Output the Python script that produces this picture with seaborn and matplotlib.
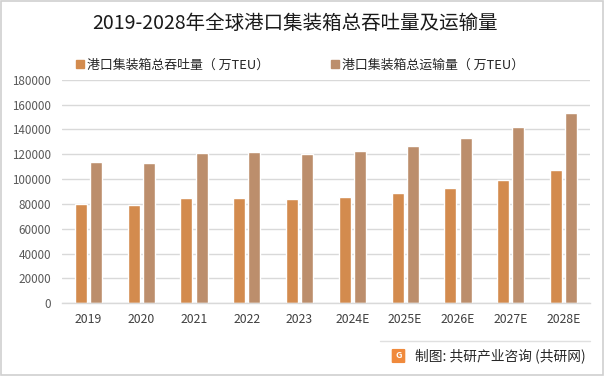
import matplotlib
matplotlib.use("Agg")
import matplotlib.pyplot as plt
import seaborn as sns
import pandas as pd
from matplotlib.patches import Rectangle, FancyBboxPatch
from matplotlib.lines import Line2D

years = ["2019", "2020", "2021", "2022", "2023", "2024E", "2025E", "2026E", "2027E", "2028E"]
throughput = [80000, 79100, 84700, 84700, 83900, 85500, 88800, 92800, 99200, 107300]
transport = [113700, 112900, 121000, 121800, 120200, 122600, 126600, 133000, 141900, 153200]
series_names = ["港口集装箱总吞吐量（ 万TEU）", "港口集装箱总运输量（ 万TEU）"]
title = "2019-2028年全球港口集装箱总吞吐量及运输量"
source = "制图: 共研产业咨询 (共研网)"

df = pd.DataFrame({
    "year": years * 2,
    "value": throughput + transport,
    "series": [series_names[0]] * len(years) + [series_names[1]] * len(years),
})

sns.set_theme(style="white")
plt.rcParams["font.family"] = ["Noto Sans CJK SC", "DejaVu Sans"]

colors = ["#D38B4E", "#BC8E6C"]

fig = plt.figure(figsize=(6.04, 3.76), dpi=100)
ax = fig.add_axes([62 / 604, 1 - 303.3 / 376, (590 - 62) / 604, (303.3 - 79.7) / 376])

sns.barplot(data=df, x="year", y="value", hue="series", palette=colors,
            width=0.57, gap=0.2, ax=ax, legend=False, saturation=1)

ax.set_ylim(0, 180000)
ax.set_yticks(range(0, 180001, 20000))
ax.set_xlim(-0.5, len(years) - 0.5)
ax.yaxis.grid(True, color="#D9D9D9", linewidth=1)
ax.set_axisbelow(True)
for s in ["top", "right", "left"]:
    ax.spines[s].set_visible(False)
ax.spines["bottom"].set_color("#D9D9D9")
ax.spines["bottom"].set_linewidth(1)
ax.set_xlabel("")
ax.set_ylabel("")
ax.tick_params(axis="y", labelsize=8.4, colors="#595959", length=0, pad=8)
ax.tick_params(axis="x", labelsize=8.8, colors="#404040", length=0, pad=7)

fig.text(295.5 / 604, 1 - 23 / 376, title, ha="center", va="center", fontsize=14, color="#1a1a1a")

handles = [Rectangle((0, 0), 1, 1, color=c) for c in colors]
fig.legend(handles, series_names, loc="center left", bbox_to_anchor=(76 / 604, 1 - 65 / 376),
           ncol=2, frameon=False, fontsize=9.3, handlelength=0.6, handleheight=0.6,
           handletextpad=0.25, columnspacing=4.8, borderaxespad=0, borderpad=0)

# footer
fig.add_artist(Line2D([380 / 604, 590 / 604], [1 - 341 / 376, 1 - 341 / 376],
                      color="#E0E0E0", linewidth=1, transform=fig.transFigure))
fig.add_artist(FancyBboxPatch((393 / 604, 1 - 362 / 376), 11 / 604, 12 / 376,
                              boxstyle="round,pad=0.001", color="#F08A3C",
                              transform=fig.transFigure))
fig.text(398.5 / 604, 1 - 356 / 376, "G", ha="center", va="center", fontsize=6.5,
         color="white", fontweight="bold")
fig.text(415 / 604, 1 - 356 / 376, source, ha="left", va="center", fontsize=9.9, color="#262626")

# figure border
fig.add_artist(Rectangle((0.001, 0.002), 0.997, 0.996, fill=False, edgecolor="#D0D0D0",
                         linewidth=1.2, transform=fig.transFigure))

fig.savefig("out.png", dpi=100)
